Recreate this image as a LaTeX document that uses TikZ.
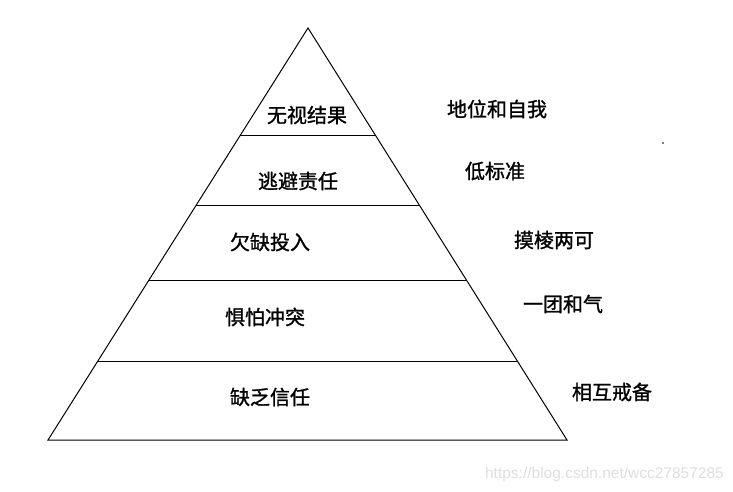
\documentclass[tikz,border=0pt]{standalone}
\usepackage{fontspec}
\newfontfamily\cjk{Noto Sans CJK SC}[FakeBold=1.2]
\setsansfont{Liberation Sans}
\usetikzlibrary{positioning,calc}

\begin{document}
\begin{tikzpicture}[
  x=1pt, y=-1pt,
  font=\cjk\fontsize{20pt}{22pt}\selectfont,
  layer/.style={inner sep=0pt},
  cause/.style={inner sep=0pt},
  edge/.style={draw=black, line width=1pt},
]
\useasboundingbox (0,0) rectangle (733,492);

% pyramid outline
\coordinate (top) at (308,28);
\coordinate (bl) at (48,440);
\coordinate (br) at (567,440);
\draw[edge] (top) -- (bl) -- (br) -- cycle;

% layer borders
\foreach \y [count=\i] in {136,205,280,362} {
  \pgfmathsetmacro\f{(\y-28)/412}
  \coordinate (l\i) at ($(top)!\f!(bl)$);
  \coordinate (r\i) at ($(top)!\f!(br)$);
  \draw[edge] (l\i) -- (r\i);
}

% layers, top to bottom
\node[layer] (results) at (307,115) {无视结果};
\node[layer] (account) at (298,181) {逃避责任};
\node[layer] (commit) at (270,242) {欠缺投入};
\node[layer] (conflict) at (265,317) {惧怕冲突};
\node[layer] (trust) at (270,397) {缺乏信任};

% symptoms
\node[cause] (status) at (497,109) {地位和自我};
\node[cause] (lowstd) at (495,171) {低标准};
\node[cause] (ambig) at (554,240) {摸棱两可};
\node[cause] (harmony) at (563,304) {一团和气};
\node[cause] (guard) at (612,392) {相互戒备};

\fill (663,143) circle (0.8);

\node[font=\sffamily\fontsize{15.5pt}{17pt}\selectfont, text=black!13, anchor=east, inner sep=0pt] (mark) at (724,474) {https://blog.csdn.net/wcc27857285};
\end{tikzpicture}
\end{document}
